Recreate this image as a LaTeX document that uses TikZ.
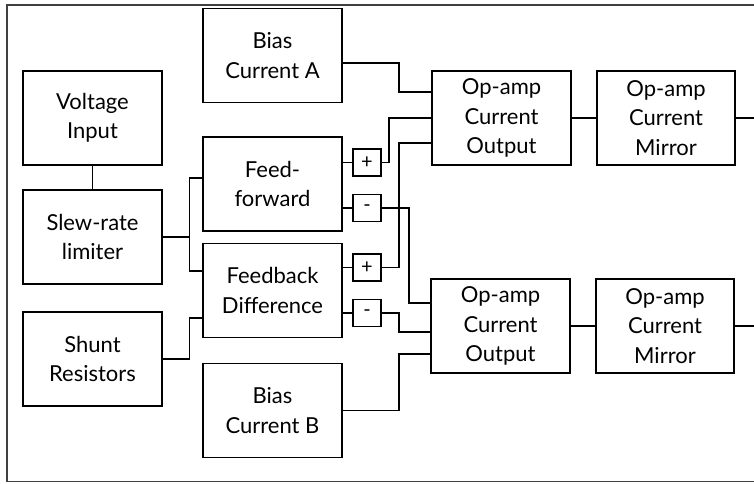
\documentclass[tikz,border=0pt]{standalone}
\usepackage{fontspec}
\setmainfont{Lato}
\usetikzlibrary{calc}
\begin{document}
\begin{tikzpicture}[x=0.75pt,y=-0.75pt,
  line width=1.3pt,
  blk/.style={draw,rectangle,minimum width=104pt,minimum height=70.5pt,inner sep=0pt,align=center,font=\fontsize{16.5}{22}\selectfont},
  sgn/.style={draw,rectangle,minimum width=21pt,minimum height=20pt,inner sep=0pt,line width=1.1pt,font=\fontsize{15}{16}\selectfont},
  wire/.style={line width=1.3pt}]
\useasboundingbox (0,0) rectangle (754,483);
\draw[line width=1pt,black!75] (754,5) -- (7,5) -- (7,481.5) -- (754,481.5);
% left column
\node[blk] (vi) at (92.5,118) {Voltage\\Input};
\node[blk] (sr) at (92.5,237) {Slew-rate\\limiter};
\node[blk] (sh) at (92.5,359) {Shunt\\Resistors};
% second column
\node[blk] (ba) at (272.5,55.5) {Bias\\Current A};
\node[blk] (ff) at (272.5,184) {Feed-\\forward};
\node[blk] (fd) at (272.5,290.5) {Feedback\\Difference};
\node[blk] (bb) at (272.5,410.5) {Bias\\Current B};
% signs
\node[sgn] (p1) at (367,162.5) {+};
\node[sgn] (m1) at (367,208) {-};
\node[sgn] (p2) at (367,267.5) {+};
\node[sgn] (m2) at (367,313) {-};
% op-amps
\node[blk] (oa1) at (501.5,118) {Op-amp\\Current\\Output};
\node[blk] (om1) at (666,118) {Op-amp\\Current\\Mirror};
\node[blk] (oa2) at (500.5,326) {Op-amp\\Current\\Output};
\node[blk] (om2) at (665,326) {Op-amp\\Current\\Mirror};
% junction coordinates
\coordinate (j1) at (189.5,237);
\coordinate (j2) at (189.5,330);
\coordinate (c1) at (389,140);
\coordinate (c2) at (399,200);
\coordinate (c3) at (409,250);
\coordinate (c4) at (399,320);
\coordinate (c5) at (399,80);
\coordinate (c6) at (399,380);
\coordinate (o1) at (754,118);
\coordinate (o2) at (754,326);
% connectors
\draw[wire] (vi) -- (sr);
\draw[wire] (sr.east) -- (j1);
\draw[wire] ($(ff.west)+(0,-6)$) -| (j1) |- ($(fd.west)+(0,-19.5)$);
\draw[wire] (sh.east) -| (j2) |- ($(fd.west)+(0,27.5)$);
\draw[wire] (p1.west) -- (p1.west -| ff.east);
\draw[wire] (m1.west) -- (m1.west -| ff.east);
\draw[wire] (p2.west) -- (p2.west -| fd.east);
\draw[wire] (m2.west) -- (m2.west -| fd.east);
\draw[wire] (p1.east) -| (c1) |- (oa1.west);
\draw[wire] (p2.east) -| (c2) |- ($(oa1.west)+(0,25)$);
\draw[wire] (m1.east) -| (c3) |- ($(oa2.west)+(0,-23)$);
\draw[wire] (m2.east) -| (c4) |- ($(oa2.west)+(0,6)$);
\draw[wire] ($(ba.east)+(0,7.5)$) -| (c5) |- ($(oa1.west)+(0,-26)$);
\draw[wire] ($(bb.east)+(0,0)$) -| (c6) |- ($(oa2.west)+(0,28)$);
\draw[wire] (oa1) -- (om1);
\draw[wire] (oa2) -- (om2);
\draw[wire] (om1.east) -- (o1);
\draw[wire] (om2.east) -- (o2);
\end{tikzpicture}
\end{document}
